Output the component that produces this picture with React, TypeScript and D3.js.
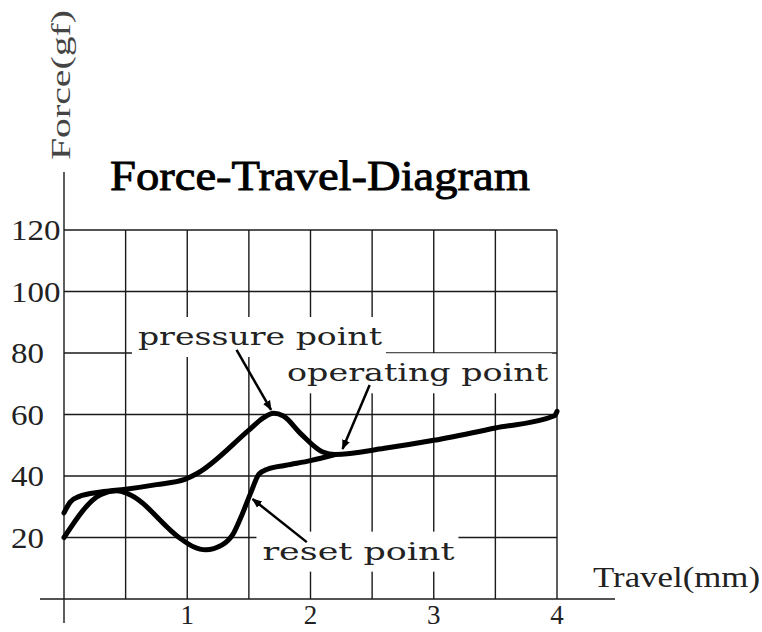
import React from 'react';
import * as d3 from 'd3';

// travel (mm) / force (gf)
const pressTravel = [0, 0.05, 0.12, 0.3, 0.5, 0.75, 0.98, 1.08, 1.5, 1.62, 1.7, 1.78, 1.92, 2.1, 2.2, 2.6, 3.0, 3.5, 3.98, 4.0];
const pressForce = [28, 31.5, 33.3, 34.8, 35.7, 37.2, 38.9, 40.8, 54.9, 59, 60.4, 59.5, 53.8, 47.8, 47, 49, 51.6, 55.6, 59.6, 61];

const releaseTravel = [0, 0.3, 0.43, 0.52, 0.95, 1.05, 1.15, 1.28, 1.37, 1.45, 1.52, 1.58, 1.65, 1.8, 2.0, 2.2];
const releaseForce = [20, 34, 35.2, 34.2, 19.5, 17, 16, 17.5, 21, 28, 35, 40.5, 42.2, 43.5, 45, 47];

const xTicks = [1, 2, 3, 4];
const yTicks = [20, 40, 60, 80, 100, 120];
const xGrid = [0.5, 1, 1.5, 2, 2.5, 3, 3.5, 4];

const labels = ['pressure point', 'operating point', 'reset point'];
const labelAt = [[0.6, 82.6], [1.81, 70.8], [1.61, 12.8]];
const labelWidth = [244, 261, 192];
const arrowFrom = [[1.4, 81], [2.48, 69.6], [1.97, 18.5]];
const arrowTo = [[1.68, 61.5], [2.26, 48.8], [1.53, 32.5]];

const W = 762;
const H = 632;
const FONT = "'Liberation Serif', serif";
const LABEL_FONT = "'DejaVu Serif', serif";

export default function App() {
  const x = d3.scaleLinear().domain([0, 4]).range([64, 557]);
  const y = d3.scaleLinear().domain([0, 120]).range([599, 230]);

  const line = d3.line<[number, number]>()
    .x(d => x(d[0]))
    .y(d => y(d[1]))
    .curve(d3.curveMonotoneX);

  const press = pressTravel.map((t, i) => [t, pressForce[i]] as [number, number]);
  const release = releaseTravel.map((t, i) => [t, releaseForce[i]] as [number, number]);

  const gridColor = '#1a1a1a';
  const textColor = '#222';

  return (
    <svg width={W} height={H} style={{ position: 'absolute', left: 0, top: 0, background: '#fff' }}>
      <defs>
        <marker id="arr" viewBox="0 0 10 10" refX="9" refY="5" markerWidth="4" markerHeight="4" orient="auto">
          <path d="M0,1 L10,5 L0,9 Z" fill="#000" />
        </marker>
      </defs>

      {/* grid */}
      <g stroke={gridColor} strokeWidth={1.4}>
        {yTicks.map(v => (
          <line key={'h' + v} x1={x(0)} x2={x(4)} y1={y(v)} y2={y(v)} />
        ))}
        {xGrid.map(v => (
          <line key={'v' + v} x1={x(v)} x2={x(v)} y1={y(0)} y2={y(120)} />
        ))}
        <line x1={40} x2={615} y1={y(0)} y2={y(0)} />
        <line x1={x(0)} x2={x(0)} y1={172} y2={623} />
      </g>

      {/* tick labels */}
      <g fill={textColor} fontFamily={FONT} fontSize={29}>
        {yTicks.map(v => (
          <text key={'yt' + v} x={11} y={y(v) + 10}
            textLength={String(v).length * 16.5} lengthAdjust="spacingAndGlyphs">{v}</text>
        ))}
        {xTicks.map(v => (
          <text key={'xt' + v} x={x(v)} y={624} fontSize={27} textAnchor="middle">{v}</text>
        ))}
      </g>

      {/* axis titles */}
      <text x={593} y={587} fill={textColor} fontFamily={FONT} fontSize={29}
        textLength={167} lengthAdjust="spacingAndGlyphs">Travel(mm)</text>
      <text transform="translate(70,160) rotate(-90)" fill="#444" fontFamily={FONT} fontSize={28}
        textLength={150} lengthAdjust="spacingAndGlyphs">Force(gf)</text>
      <text x={110} y={190} fill="#000" stroke="#000" strokeWidth={0.9} fontFamily={FONT} fontSize={43}
        textLength={420} lengthAdjust="spacingAndGlyphs">Force-Travel-Diagram</text>

      {/* curves */}
      <path d={line(press) || ''} fill="none" stroke="#000" strokeWidth={5} strokeLinejoin="round" strokeLinecap="round" />
      <path d={line(release) || ''} fill="none" stroke="#000" strokeWidth={5} strokeLinejoin="round" strokeLinecap="round" />

      {/* annotations */}
      {labels.map((s, i) => {
        const lx = x(labelAt[i][0]);
        const ly = y(labelAt[i][1]);
        return (
          <g key={s}>
            <rect x={lx - 6} y={ly - 28} width={labelWidth[i] + 10} height={40} fill="#fff" />
            <text x={lx} y={ly} fill={textColor} fontFamily={LABEL_FONT} fontSize={25}
              textLength={labelWidth[i]} lengthAdjust="spacingAndGlyphs">{s}</text>
            <line x1={x(arrowFrom[i][0])} y1={y(arrowFrom[i][1])} x2={x(arrowTo[i][0])} y2={y(arrowTo[i][1])}
              stroke="#000" strokeWidth={2.5} markerEnd="url(#arr)" />
          </g>
        );
      })}
    </svg>
  );
}
